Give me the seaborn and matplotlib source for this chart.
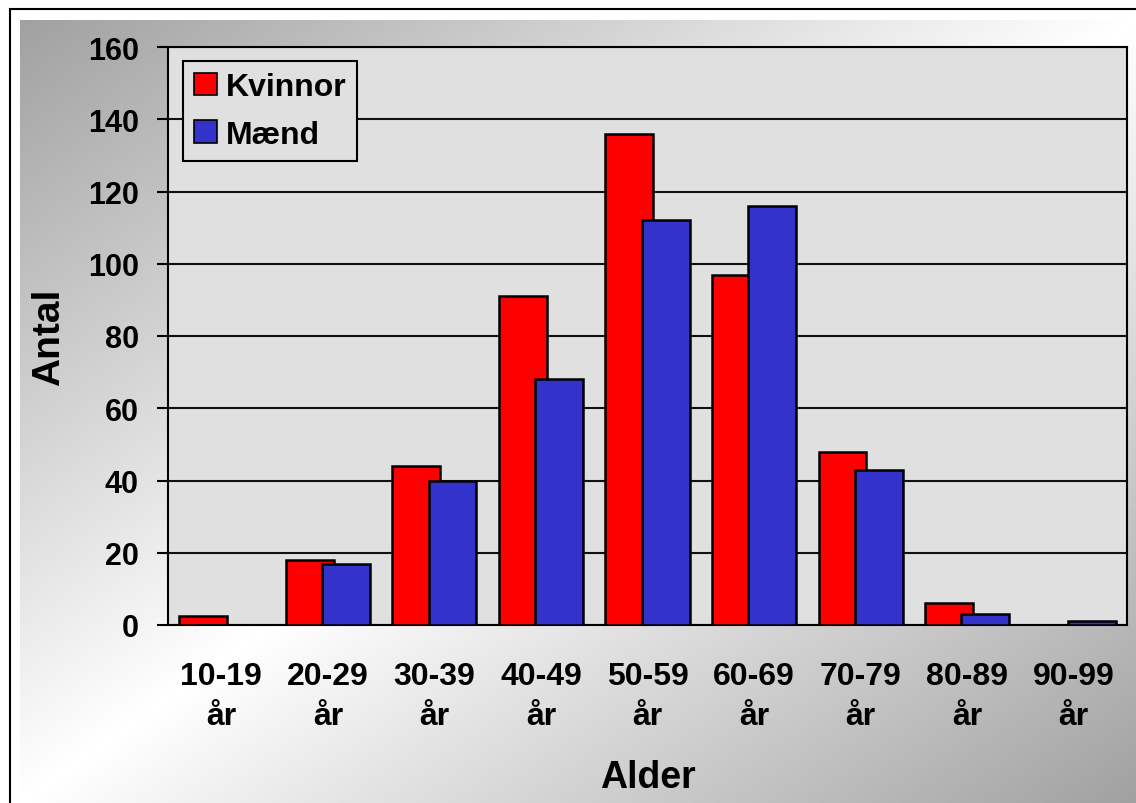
import numpy as np
import pandas as pd
import matplotlib
matplotlib.use("Agg")
import matplotlib.pyplot as plt
import matplotlib.patches as mpatches
import seaborn as sns

categories = ["10-19\når", "20-29\når", "30-39\når", "40-49\når", "50-59\når",
              "60-69\når", "70-79\når", "80-89\når", "90-99\når"]
kvinnor = [2.5, 18, 44, 91, 136, 97, 48, 6, 0]
maend = [0, 17, 40, 68, 112, 116, 43, 3, 1]
series_names = ["Kvinnor", "Mænd"]
colors = {"Kvinnor": "#FF0000", "Mænd": "#3333CC"}
yticks = [0, 20, 40, 60, 80, 100, 120, 140, 160]

df = pd.DataFrame({
    "Alder": categories * 2,
    "Antal": kvinnor + maend,
    "Kön": [series_names[0]] * len(categories) + [series_names[1]] * len(categories),
})

plt.rcParams['font.family'] = ['Liberation Sans', 'DejaVu Sans']
plt.rcParams['font.weight'] = 'bold'

W, H = 1136, 804
fig = plt.figure(figsize=(W / 100, H / 100), dpi=100)
fig.patch.set_facecolor("white")

# gradient background
bg = fig.add_axes([20 / W, 0, 1 - 20 / W, (H - 21) / H], zorder=-10)
gx = np.linspace(0, 1, 400)
gy = np.linspace(0, 1, 300)
XX, YY = np.meshgrid(gx, gy)
s = XX + YY
gray = 0.63
val = gray + (1 - gray) * (1 - np.abs(s - 1))
bg.imshow(val, cmap="gray", vmin=0, vmax=1, aspect="auto", extent=[0, 1, 1, 0])
bg.set_axis_off()

# outer border
fig.patches.append(mpatches.Rectangle((10 / W, -0.1), 2, (H - 10) / H + 0.1,
                                      transform=fig.transFigure, fill=False,
                                      edgecolor="black", linewidth=1.5, zorder=-5))

ax = fig.add_axes([168 / W, (H - 626) / H, (1127 - 168) / W, (626 - 48) / H])
ax.set_facecolor("#E0E0E0")

sns.barplot(data=df, x="Alder", y="Antal", hue="Kön", palette=colors,
            hue_order=series_names, order=categories, width=0.8,
            edgecolor="black", linewidth=1.8, saturation=1, ax=ax,
            errorbar=None, zorder=3)

# overlapping bars as in the reference
for p in ax.patches:
    w = p.get_width()
    cx = p.get_x() + w / 2
    g = round(cx)
    off = cx - g
    ncx = g + np.sign(off) * 0.17
    p.set_width(0.45)
    p.set_x(ncx - 0.225)

ax.set_ylim(0, 160)
ax.set_xlim(-0.5, len(categories) - 0.5)
ax.set_yticks(yticks)
ax.yaxis.grid(True, color="#111111", linewidth=1.5, zorder=0)
ax.set_axisbelow(True)
for sp in ax.spines.values():
    sp.set_color("black")
    sp.set_linewidth(1.5)

ax.tick_params(axis="y", length=8, width=1.5, pad=13, labelsize=22)
ax.tick_params(axis="x", length=0, pad=26, labelsize=23)
for lab in ax.get_xticklabels():
    lab.set_linespacing(1.45)
    lab.set_fontweight("bold")
for lab in ax.get_yticklabels():
    lab.set_fontweight("bold")

ax.set_ylabel("Antal", fontsize=28, fontweight="bold", labelpad=15)
ax.set_xlabel("Alder", fontsize=27, fontweight="bold", labelpad=20)

handles = [mpatches.Patch(facecolor=colors[n], edgecolor="black", linewidth=1.2, label=n)
           for n in series_names]
leg = ax.legend(handles=handles, loc="upper left", bbox_to_anchor=(0.0156, 0.976),
                borderaxespad=0, frameon=True, fancybox=False, framealpha=1,
                facecolor="#E0E0E0", edgecolor="black", fontsize=23,
                handlelength=0.7, handleheight=0.7, handletextpad=0.28,
                labelspacing=0.55, borderpad=0.35)
leg.get_frame().set_linewidth(1.5)
for t in leg.get_texts():
    t.set_fontweight("bold")
leg.set_zorder(10)

fig.savefig("out.png", dpi=100)
